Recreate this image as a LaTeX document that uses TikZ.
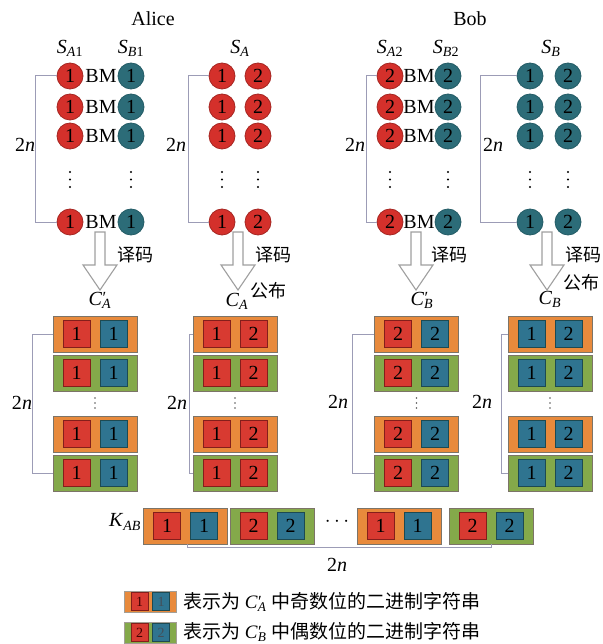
\documentclass[tikz,border=0pt]{standalone}
\usepackage{fontspec}
\setmainfont{Liberation Serif}
\newfontfamily\cjk{Noto Sans CJK SC}
\newcommand{\vsub}[2]{\textit{#1}\textsubscript{#2}}
\newcommand{\vpr}[2]{\textit{#1}\rlap{\raisebox{0.08em}{\kern0.02em\fontsize{17}{17}\selectfont\char"2032}}\textsubscript{#2}}
\newcommand{\twon}{2\textit{n}}
\definecolor{cred}{HTML}{D4302B}
\definecolor{credd}{HTML}{A52622}
\definecolor{cteal}{HTML}{2C6C78}
\definecolor{ctealdd}{HTML}{245C66}
\definecolor{corange}{HTML}{E88A3C}
\definecolor{cgreen}{HTML}{84A94A}
\definecolor{csqr}{HTML}{D83A31}
\definecolor{csqt}{HTML}{2F7490}
\definecolor{cbr}{HTML}{9C9CB6}
\definecolor{cbox}{HTML}{7C7468}
\begin{document}
\begin{tikzpicture}[x=1pt,y=-1pt,
  every node/.style={font=\fontsize{20}{24}\selectfont},
  rc/.style={circle,fill=cred,draw=credd,line width=0.8pt,minimum size=26pt,inner sep=0pt},
  tc/.style={circle,fill=cteal,draw=ctealdd,line width=0.8pt,minimum size=26pt,inner sep=0pt},
  bm/.style={inner sep=0pt},
  ob/.style={rectangle,fill=corange,draw=cbox,line width=0.8pt,minimum width=84pt,minimum height=36pt,inner sep=0pt},
  gb/.style={rectangle,fill=cgreen,draw=cbox,line width=0.8pt,minimum width=84pt,minimum height=36pt,inner sep=0pt},
  rs/.style={rectangle,fill=csqr,draw=credd!80!black,line width=0.8pt,minimum size=27pt,inner sep=0pt},
  ts/.style={rectangle,fill=csqt,draw=ctealdd!80!black,line width=0.8pt,minimum size=27pt,inner sep=0pt},
  lob/.style={rectangle,fill=corange,draw=cbox!70,line width=0.6pt,minimum width=52pt,minimum height=21pt,inner sep=0pt},
  lgb/.style={rectangle,fill=cgreen,draw=cbox!70,line width=0.6pt,minimum width=52pt,minimum height=21pt,inner sep=0pt},
  lrs/.style={rectangle,fill=csqr,draw=credd!80!black,line width=0.6pt,minimum width=17pt,minimum height=18pt,inner sep=0pt,font=\fontsize{14}{16}\selectfont,text=black!75!red},
  lts/.style={rectangle,fill=csqt,draw=ctealdd!80!black,line width=0.6pt,minimum width=17pt,minimum height=18pt,inner sep=0pt,font=\fontsize{14}{16}\selectfont,text=black!75!cyan},
  br/.style={draw=cbr,line width=1pt},
  blk/.style={draw=gray!75,fill=white,line width=1.1pt,line join=miter},
  cj/.style={font=\fontsize{18}{20}\selectfont\cjk},
  dotb/.style={fill=black},
  dots/.style={fill=gray!70!black}
]
\useasboundingbox (0,0) rectangle (602,644);

% titles
\node (alice) at (153,19) {Alice};
\node (bob) at (470,19) {Bob};
\node (lsa1) at (70,48) {\vsub{S}{\textit{A}1}};
\node (lsb1) at (131,48) {\vsub{S}{\textit{B}1}};
\node (lsa) at (240,48) {\vsub{S}{\textit{A}}};
\node (lsa2) at (390,48) {\vsub{S}{\textit{A}2}};
\node (lsb2) at (446,48) {\vsub{S}{\textit{B}2}};
\node (lsb) at (551,48) {\vsub{S}{\textit{B}}};

% circle groups
\foreach \y [count=\i] in {76,107,136,222}{
  \node[rc] (a\i) at (70,\y) {1};
  \node[bm] (am\i) at (101,\y) {BM};
  \node[tc] (b\i) at (131,\y) {1};
  \node[rc] (c\i) at (222,\y) {1};
  \node[rc] (d\i) at (258,\y) {2};
  \node[rc] (e\i) at (390,\y) {2};
  \node[bm] (em\i) at (419,\y) {BM};
  \node[tc] (f\i) at (448,\y) {2};
  \node[tc] (g\i) at (530,\y) {1};
  \node[tc] (h\i) at (568,\y) {2};
}
\foreach \x in {70,131,222,258,390,448,530,568}{
  \foreach \yy in {172,179.5,187}{
    \fill[dotb] (\x,\yy) circle (1.2pt);
  }
}
\draw[br] (a1.west) -- ++(-21,0) |- (a4.west);
\draw[br] (c1.west) -- ++(-20,0) |- (c4.west);
\draw[br] (e1.west) -- ++(-10,0) |- (e4.west);
\draw[br] (g1.west) -- ++(-36,0) |- (g4.west);
\node (n1) at (25,145) {\twon};
\node (n2) at (176,145) {\twon};
\node (n3) at (355,145) {\twon};
\node (n4) at (493,145) {\twon};

% block arrows
\foreach \x in {100,238,416,547}{
  \draw[blk,shift={(\x,232)}] (-5,0) -- (5,0) -- (5,33) -- (17,33) -- (0,58) -- (-17,33) -- (-5,33) -- cycle;
}
\node[cj] (y1) at (135,255) {译码};
\node[cj] (y2) at (273,255) {译码};
\node[cj] (y3) at (449,255) {译码};
\node[cj] (y4) at (583,255) {译码};
\node (ca1) at (100,300) {\vpr{C}{\textit{A}}};
\node (ca) at (237,301) {\vsub{C}{\textit{A}}};
\node[cj] (gb1) at (268,291) {公布};
\node (cb1) at (422,300) {\vpr{C}{\textit{B}}};
\node (cb) at (550,299) {\vsub{C}{\textit{B}}};
\node[cj] (gb2) at (581,283) {公布};

% box groups
\foreach \g/\cx/\sa/\sb/\la/\lb in {p/95/rs/ts/1/1, q/235/rs/rs/1/2, r/416.5/rs/ts/2/2, s/550/ts/ts/1/2}{
  \foreach \y/\st [count=\i] in {334/ob,373/gb,434/ob,473/gb}{
    \node[\st] (\g\i) at (\cx,\y) {};
    \node[\sa] (\g\i l) at ({\cx-18.5},\y) {\la};
    \node[\sb] (\g\i r) at ({\cx+18.5},\y) {\lb};
  }
  \foreach \yy in {398,403,408}{
    \fill[dots] (\cx,\yy) circle (0.9pt);
  }
}
\draw[br] (p1.west) -- ++(-20,0) |- (p4.west);
\draw[br] (q1.west) -- ++(-3,0) |- (q4.west);
\draw[br] (r1.west) -- ++(-22,0) |- (r4.west);
\draw[br] (s1.west) -- ++(-6,0) |- (s4.west);
\node (m1) at (22,403) {\twon};
\node (m2) at (177,403) {\twon};
\node (m3) at (338,402) {\twon};
\node (m4) at (482,402) {\twon};

% key row
\node (kab) at (125,522) {\vsub{K}{\textit{AB}}};
\foreach \k/\cx/\st/\la/\lb in {1/185.5/ob/1/1, 2/272/gb/2/2, 3/399/ob/1/1, 4/491/gb/2/2}{
  \node[\st] (k\k) at (\cx,526) {};
  \node[rs] (k\k l) at ({\cx-18.5},526) {\la};
  \node[ts] (k\k r) at ({\cx+18.5},526) {\lb};
}
\node (kd) at (337,522) {$\cdots$};
\draw[br] (k1.south) ++(1.5,0) -- ++(0,3) -| (k4.south);
\node (kn) at (337,565) {\twon};

% legend
\node[lob] (lg1) at (150,601.5) {};
\node[lrs] (lg1l) at (139.5,601.5) {1};
\node[lts] (lg1r) at (161,601.5) {1};
\node[lgb] (lg2) at (150,632.5) {};
\node[lrs] (lg2l) at (139.5,632.5) {2};
\node[lts] (lg2r) at (161,632.5) {2};
\node[anchor=west,inner sep=0pt,font=\fontsize{19}{22}\selectfont] (lt1) at (183,602) {{\cjk 表示为} \vpr{C}{\textit{A}} {\cjk 中奇数位的二进制字符串}};
\node[anchor=west,inner sep=0pt,font=\fontsize{19}{22}\selectfont] (lt2) at (183,632) {{\cjk 表示为} \vpr{C}{\textit{B}} {\cjk 中偶数位的二进制字符串}};
\end{tikzpicture}
\end{document}
